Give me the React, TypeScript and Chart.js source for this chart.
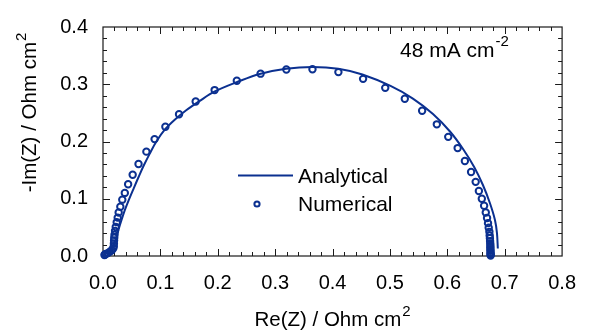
import React, { useEffect, useRef } from "react";
import { Chart, registerables } from "chart.js";

Chart.register(...registerables);

// ---- Data ----
const analyticalRe = [
  0.001, 0.009, 0.016, 0.02, 0.023, 0.027, 0.032, 0.038, 0.045, 0.053,
  0.062, 0.071, 0.081, 0.093, 0.108, 0.125, 0.145, 0.168, 0.194, 0.234,
  0.273, 0.319, 0.365, 0.41, 0.452, 0.501, 0.54, 0.575, 0.605, 0.628,
  0.647, 0.662, 0.674, 0.683, 0.6865, 0.688,
];
const analyticalIm = [
  0.001, 0.006, 0.012, 0.02, 0.032, 0.046, 0.062, 0.08, 0.098, 0.117,
  0.138, 0.158, 0.178, 0.2, 0.221, 0.238, 0.2545, 0.2705, 0.287, 0.304,
  0.318, 0.327, 0.33, 0.327, 0.317, 0.297, 0.275, 0.248, 0.217, 0.186,
  0.155, 0.124, 0.093, 0.063, 0.04, 0.013,
];
const numericalRe = [
  0.0026, 0.0034, 0.005, 0.0085, 0.012, 0.0154, 0.018, 0.0188, 0.019, 0.0193,
  0.0196, 0.0201, 0.021, 0.0222, 0.0239, 0.0256, 0.0273, 0.0302, 0.0336, 0.038,
  0.0438, 0.0517, 0.0619, 0.0756, 0.0899, 0.1087, 0.1325, 0.1615, 0.1945, 0.2332,
  0.2746, 0.3195, 0.365, 0.4102, 0.4532, 0.4918, 0.5259, 0.5561, 0.5817, 0.6016,
  0.618, 0.6306, 0.6414, 0.6494, 0.655, 0.6601, 0.6641, 0.667, 0.6692, 0.6709,
  0.6721, 0.6733, 0.6738, 0.6742, 0.6745, 0.6748, 0.675, 0.675, 0.6751, 0.6752,
  0.6753, 0.6754, 0.6755, 0.6755,
];
const numericalIm = [
  0.0017, 0.0025, 0.0034, 0.005, 0.0076, 0.01, 0.0135, 0.017, 0.022, 0.027,
  0.032, 0.037, 0.0439, 0.0506, 0.0591, 0.067, 0.0759, 0.0861, 0.0984, 0.1102,
  0.1254, 0.1418, 0.1608, 0.1823, 0.2042, 0.2257, 0.2476, 0.27, 0.2898, 0.306,
  0.3185, 0.3257, 0.3262, 0.3212, 0.3094, 0.2937, 0.2746, 0.2537, 0.23, 0.2081,
  0.1885, 0.1659, 0.1468, 0.1295, 0.1136, 0.1001, 0.0878, 0.0759, 0.0663, 0.0574,
  0.0495, 0.0422, 0.036, 0.031, 0.026, 0.022, 0.018, 0.015, 0.012, 0.009,
  0.006, 0.004, 0.002, 0.001,
];

const xRange = [0, 0.8];
const yRange = [0, 0.4];
const majorStep = 0.1;
const minorStep = 0.02;
const seriesLabels = ["Analytical", "Numerical"];
const annotationText = ["48 mA cm", "-2"];
const xTitle = ["Re(Z) / Ohm cm", "2"];
const yTitle = ["-Im(Z) / Ohm cm", "2"];

const COLOR = "#0b3090";
const FONT = "'Liberation Sans', Arial, Helvetica, sans-serif";

function drawSup(
  ctx: CanvasRenderingContext2D,
  base: string,
  sup: string,
  x: number,
  y: number,
  size: number,
  supSize: number,
  rise: number,
  centered: boolean
) {
  ctx.font = `${size}px ${FONT}`;
  const wb = ctx.measureText(base).width;
  ctx.font = `${supSize}px ${FONT}`;
  const ws = ctx.measureText(sup).width;
  const total = wb + 1 + ws;
  const x0 = centered ? x - total / 2 : x;
  ctx.textAlign = "left";
  ctx.textBaseline = "alphabetic";
  ctx.font = `${size}px ${FONT}`;
  ctx.fillText(base, x0, y);
  ctx.font = `${supSize}px ${FONT}`;
  ctx.fillText(sup, x0 + wb + 1, y - rise);
}

const framePlugin = {
  id: "frame",
  beforeDatasetsDraw(chart: any) {
    const { ctx, chartArea, scales } = chart;
    const { left, right, top, bottom } = chartArea;
    const xs = scales.x;
    const ys = scales.y;
    ctx.save();
    ctx.strokeStyle = "#1a1a1a";
    ctx.lineWidth = 1.2;
    ctx.strokeRect(left, top, right - left, bottom - top);
    ctx.lineWidth = 1;
    ctx.beginPath();
    const nx = Math.round((xRange[1] - xRange[0]) / minorStep);
    for (let i = 1; i < nx; i++) {
      const v = xRange[0] + i * minorStep;
      const px = Math.round(xs.getPixelForValue(v)) + 0.5;
      const len = i % 5 === 0 ? 7 : 4;
      ctx.moveTo(px, bottom);
      ctx.lineTo(px, bottom - len);
      ctx.moveTo(px, top);
      ctx.lineTo(px, top + len);
    }
    const ny = Math.round((yRange[1] - yRange[0]) / minorStep);
    for (let i = 1; i < ny; i++) {
      const v = yRange[0] + i * minorStep;
      const py = Math.round(ys.getPixelForValue(v)) + 0.5;
      const len = i % 5 === 0 ? 7 : 4;
      ctx.moveTo(left, py);
      ctx.lineTo(left + len, py);
      ctx.moveTo(right, py);
      ctx.lineTo(right - len, py);
    }
    ctx.stroke();
    ctx.restore();
  },
  afterDraw(chart: any) {
    const { ctx, chartArea } = chart;
    const { left, right } = chartArea;
    ctx.save();
    ctx.fillStyle = "#000";
    // annotation
    drawSup(ctx, annotationText[0], annotationText[1], 400, 57, 21, 15, 11, false);
    // x title
    drawSup(ctx, xTitle[0], xTitle[1], (left + right) / 2, 326, 20.5, 15, 10, true);
    // y title
    ctx.save();
    ctx.translate(36, 112.5);
    ctx.rotate(-Math.PI / 2);
    drawSup(ctx, yTitle[0], yTitle[1], 0, 0, 20.5, 15, 10, true);
    ctx.restore();
    // legend
    const ds0 = chart.data.datasets[0];
    const ds1 = chart.data.datasets[1];
    ctx.strokeStyle = ds0.borderColor;
    ctx.lineWidth = ds0.borderWidth;
    ctx.beginPath();
    ctx.moveTo(238, 175.5);
    ctx.lineTo(293, 175.5);
    ctx.stroke();
    ctx.strokeStyle = ds1.borderColor;
    ctx.lineWidth = ds1.borderWidth;
    ctx.beginPath();
    ctx.arc(257, 204, 2.6, 0, Math.PI * 2);
    ctx.stroke();
    ctx.fillStyle = "#000";
    ctx.font = `21px ${FONT}`;
    ctx.textAlign = "left";
    ctx.textBaseline = "middle";
    ctx.fillText(ds0.label, 298, 177);
    ctx.fillText(ds1.label, 298, 205);
    ctx.restore();
  },
};

export default function App() {
  const ref = useRef<HTMLCanvasElement | null>(null);
  useEffect(() => {
    if (!ref.current) return;
    const lineData = analyticalRe.map((x, i) => ({ x, y: analyticalIm[i] }));
    const pointData = numericalRe.map((x, i) => ({ x, y: numericalIm[i] }));
    const chart = new Chart(ref.current, {
      type: "scatter",
      data: {
        datasets: [
          {
            label: seriesLabels[0],
            data: lineData,
            showLine: true,
            borderColor: COLOR,
            backgroundColor: COLOR,
            borderWidth: 2,
            pointRadius: 0,
            tension: 0.35,
            clip: false as any,
          },
          {
            label: seriesLabels[1],
            data: pointData,
            showLine: false,
            borderColor: COLOR,
            backgroundColor: "rgba(255,255,255,0)",
            borderWidth: 2,
            pointRadius: 3.2,
            pointStyle: "circle",
            clip: false as any,
          },
        ],
      },
      options: {
        animation: false,
        responsive: false,
        maintainAspectRatio: false,
        devicePixelRatio: 1,
        layout: { padding: { left: 0, right: 19, top: 19, bottom: 0 } },
        plugins: { legend: { display: false }, tooltip: { enabled: false } },
        scales: {
          x: {
            type: "linear",
            min: xRange[0],
            max: xRange[1],
            grid: { display: false, drawTicks: false },
            border: { display: false },
            afterFit: (s: any) => {
              s.height = 74;
            },
            ticks: {
              stepSize: majorStep,
              padding: 15,
              color: "#000",
              font: { family: FONT, size: 20 },
              maxRotation: 0,
              callback: (v: any) => Number(v).toFixed(1),
            },
          },
          y: {
            type: "linear",
            min: yRange[0],
            max: yRange[1],
            grid: { display: false, drawTicks: false },
            border: { display: false },
            afterFit: (s: any) => {
              s.width = 103;
            },
            ticks: {
              stepSize: majorStep,
              padding: 15,
              color: "#000",
              font: { family: FONT, size: 20 },
              callback: (v: any) => Number(v).toFixed(1),
            },
          },
        },
      },
      plugins: [framePlugin],
    });
    return () => chart.destroy();
  }, []);
  return (
    <div style={{ position: "fixed", left: 0, top: 0, width: 591, height: 330, background: "#fff" }}>
      <canvas ref={ref} width={591} height={330} style={{ width: 591, height: 330 }} />
    </div>
  );
}
